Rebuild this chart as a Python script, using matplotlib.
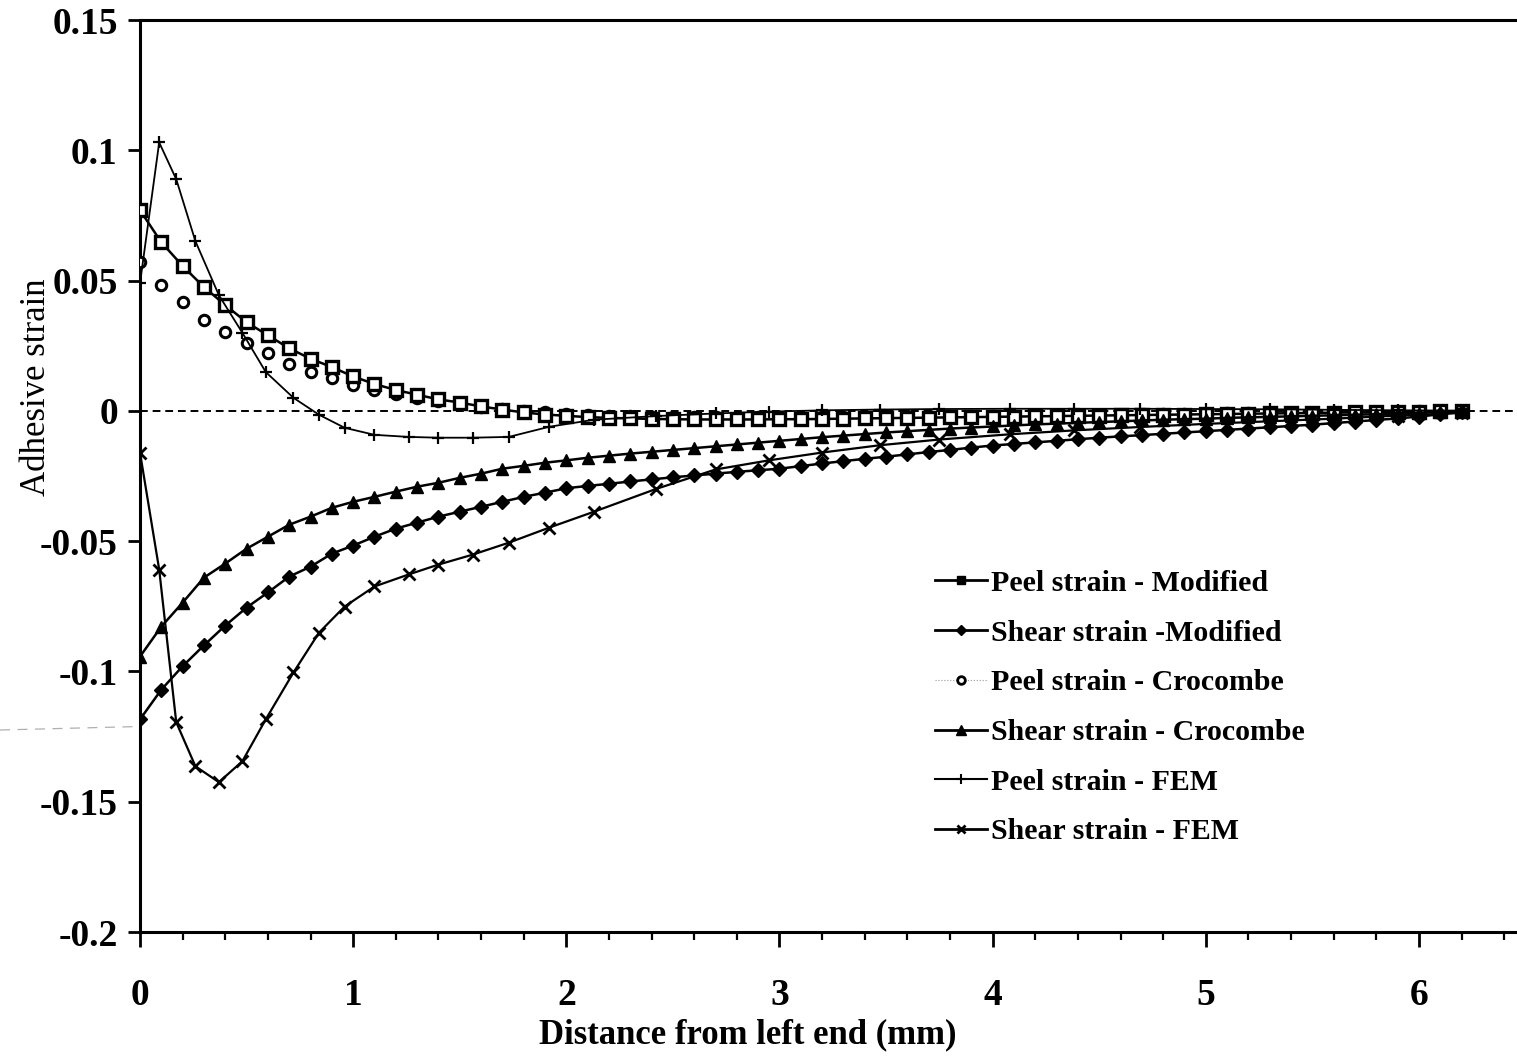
import matplotlib
matplotlib.use("Agg")
import matplotlib.pyplot as plt
from matplotlib.lines import Line2D
from matplotlib.ticker import MultipleLocator

# ---------------- data ----------------
x_grid = [round(0.1 * i, 1) for i in range(63)]  # 0.0 ... 6.2 mm

peel_modified = [
    0.0770, 0.0647, 0.0556, 0.0475, 0.0406, 0.0340, 0.0290, 0.0240, 0.0200, 0.0168,
    0.0132, 0.0103, 0.0080, 0.0062, 0.0044, 0.0032, 0.0017, 0.0005, -0.0006, -0.0014,
    -0.0019, -0.0024, -0.0027, -0.0029, -0.0031, -0.0032, -0.0033, -0.0033, -0.0033, -0.0033,
    -0.0032, -0.0032, -0.0031, -0.0030, -0.0029, -0.0028, -0.0027, -0.0026, -0.0025, -0.0024,
    -0.0023, -0.0022, -0.0021, -0.0020, -0.0019, -0.0018, -0.0017, -0.0016, -0.0015, -0.0014,
    -0.0013, -0.0012, -0.0011, -0.0010, -0.0009, -0.0008, -0.0007, -0.0006, -0.0005, -0.0004,
    -0.0003, -0.0002, -0.0001]

shear_modified = [
    -0.1184, -0.1070, -0.0980, -0.0900, -0.0824, -0.0755, -0.0697, -0.0636, -0.0598, -0.0548,
    -0.0517, -0.0483, -0.0452, -0.0429, -0.0406, -0.0387, -0.0368, -0.0349, -0.0330, -0.0314,
    -0.0297, -0.0288, -0.0280, -0.0271, -0.0263, -0.0255, -0.0248, -0.0241, -0.0234, -0.0228,
    -0.0222, -0.0212, -0.0202, -0.0193, -0.0184, -0.0176, -0.0167, -0.0158, -0.0150, -0.0141,
    -0.0133, -0.0127, -0.0121, -0.0115, -0.0109, -0.0103, -0.0098, -0.0093, -0.0088, -0.0083,
    -0.0078, -0.0073, -0.0068, -0.0063, -0.0058, -0.0053, -0.0047, -0.0041, -0.0035, -0.0029,
    -0.0022, -0.0013, -0.0004]

peel_crocombe = [
    0.0570, 0.0483, 0.0418, 0.0349, 0.0303, 0.0261, 0.0222, 0.0180, 0.0150, 0.0126,
    0.0100, 0.0081, 0.0065, 0.0050, 0.0037, 0.0026, 0.0016, 0.0007, 0.0000, -0.0006,
    -0.0011, -0.0015, -0.0018, -0.0020, -0.0022, -0.0023, -0.0024, -0.0024, -0.0024, -0.0024,
    -0.0024, -0.0024, -0.0023, -0.0023, -0.0022, -0.0022, -0.0021, -0.0021, -0.0020, -0.0019,
    -0.0019, -0.0018, -0.0017, -0.0017, -0.0016, -0.0015, -0.0014, -0.0014, -0.0013, -0.0012,
    -0.0011, -0.0010, -0.0010, -0.0009, -0.0008, -0.0007, -0.0006, -0.0005, -0.0004, -0.0003,
    -0.0002, -0.0001, 0.0000]

shear_crocombe = [
    -0.0943, -0.0828, -0.0736, -0.0640, -0.0586, -0.0529, -0.0483, -0.0437, -0.0406, -0.0372,
    -0.0349, -0.0330, -0.0310, -0.0291, -0.0276, -0.0257, -0.0241, -0.0222, -0.0211, -0.0199,
    -0.0190, -0.0180, -0.0172, -0.0164, -0.0157, -0.0150, -0.0143, -0.0136, -0.0129, -0.0122,
    -0.0115, -0.0108, -0.0101, -0.0095, -0.0089, -0.0083, -0.0078, -0.0073, -0.0068, -0.0064,
    -0.0060, -0.0056, -0.0052, -0.0049, -0.0046, -0.0043, -0.0040, -0.0037, -0.0034, -0.0032,
    -0.0030, -0.0027, -0.0025, -0.0023, -0.0021, -0.0019, -0.0017, -0.0015, -0.0013, -0.0010,
    -0.0007, -0.0004, -0.0001]

x_fem = [0.00, 0.09, 0.17, 0.26, 0.37, 0.48, 0.59, 0.72, 0.84, 0.96, 1.10, 1.26, 1.40, 1.56,
         1.73, 1.92, 2.13, 2.42, 2.70, 2.95, 3.20, 3.47, 3.75, 4.08, 4.38, 4.69, 5.00, 5.30,
         5.60, 5.90, 6.20]

peel_fem = [0.0490, 0.1030, 0.0889, 0.0651, 0.0444, 0.0300, 0.0149, 0.0050, -0.0015, -0.0065,
            -0.0092, -0.0100, -0.0103, -0.0103, -0.0100, -0.0061, -0.0034, -0.0020, -0.0010,
            -0.0003, 0.0002, 0.0005, 0.0007, 0.0008, 0.0008, 0.0008, 0.0007, 0.0006, 0.0004,
            0.0002, 0.0001]

shear_fem = [-0.0160, -0.0609, -0.1195, -0.1364, -0.1425, -0.1345, -0.1184, -0.1004, -0.0851,
             -0.0751, -0.0674, -0.0628, -0.0590, -0.0552, -0.0506, -0.0448, -0.0387, -0.0300,
             -0.0225, -0.0190, -0.0160, -0.0132, -0.0110, -0.0090, -0.0075, -0.0062, -0.0050,
             -0.0040, -0.0030, -0.0018, -0.0008]

labels = ["Peel strain - Modified", "Shear strain -Modified", "Peel strain - Crocombe",
          "Shear strain - Crocombe", "Peel strain - FEM", "Shear strain - FEM"]

x_ticks = [0, 1, 2, 3, 4, 5, 6]
y_ticks = [0.15, 0.1, 0.05, 0, -0.05, -0.1, -0.15, -0.2]
y_tick_labels = ["0.15", "0.1", "0.05", "0", "-0.05", "-0.1", "-0.15", "-0.2"]

# ---------------- figure ----------------
SERIF = ["Liberation Serif", "DejaVu Serif"]
plt.rcParams["font.family"] = SERIF

W, H = 1517, 1056
fig = plt.figure(figsize=(W / 100, H / 100), dpi=100)
L, R, B, T = 140, 1517, 932, 20
ax = fig.add_axes([L / W, 1 - B / H, (R - L) / W, (B - T) / H])

ax.set_xlim(0, 6.46)
ax.set_ylim(-0.2, 0.15)

# zero reference line
ax.axhline(0, color="black", lw=1.4, ls=(0, (4, 2.5)), zorder=1)

k = "black"
ax.plot(x_grid, peel_modified, color=k, lw=1.8, marker="s", ms=9, mfc="white",
        mec=k, mew=2.4, zorder=4)
ax.plot(x_grid, shear_modified, color=k, lw=1.8, marker="D", ms=7.5, mfc=k, mec=k, zorder=4)
ax.plot(x_grid, peel_crocombe, ls="none", marker="o", ms=7.5, mfc="white", mec=k,
        mew=2.2, zorder=3)
ax.plot(x_grid, shear_crocombe, color=k, lw=1.8, marker="^", ms=9, mfc=k, mec=k, zorder=4)
ax.plot(x_fem, peel_fem, color=k, lw=1.3, marker="+", ms=8, mew=1.6, zorder=5)
ax.plot(x_fem, shear_fem, color=k, lw=1.6, marker="x", ms=8, mew=2.0, zorder=5)

# axes styling
for s in ["left", "bottom", "top"]:
    ax.spines[s].set_linewidth(2.2)
ax.spines["right"].set_visible(False)

ax.xaxis.set_major_locator(MultipleLocator(1))
ax.xaxis.set_minor_locator(MultipleLocator(0.2))
ax.set_xticks(x_ticks)
ax.set_yticks(y_ticks)
ax.set_yticklabels(y_tick_labels)
ax.tick_params(axis="x", which="major", direction="out", length=11, width=2, pad=22,
               labelsize=27)
ax.tick_params(axis="x", which="minor", direction="out", length=6, width=1.6)
ax.tick_params(axis="y", which="major", direction="out", length=9, width=2, pad=7,
               labelsize=27)
for lab in ax.get_xticklabels() + ax.get_yticklabels():
    lab.set_fontweight("bold")

ax.set_xlabel("Distance from left end (mm)", fontsize=25, fontweight="bold")
ax.xaxis.label.set_va("center")
ax.xaxis.set_label_coords(0.4415, -0.113)
ax.set_ylabel("Adhesive strain", fontsize=25)
ax.yaxis.set_label_coords(-0.063, 0.597)

# legend
handles = [
    Line2D([], [], color=k, lw=2, marker="s", ms=6, mfc=k, mec=k),
    Line2D([], [], color=k, lw=2, marker="D", ms=5.5, mfc=k, mec=k),
    Line2D([], [], color="#999999", lw=0.8, ls=":", marker="o", ms=5.5, mfc="white",
           mec=k, mew=2),
    Line2D([], [], color=k, lw=2, marker="^", ms=7, mfc=k, mec=k),
    Line2D([], [], color=k, lw=1.5, marker="+", ms=7, mew=1.5),
    Line2D([], [], color=k, lw=2, marker="x", ms=6, mew=2),
]
leg = ax.legend(handles, labels, loc="upper left", bbox_to_anchor=(0.577, 0.397),
                frameon=False, fontsize=21.5, handlelength=1.75, handletextpad=0.15,
                labelspacing=0.76, borderaxespad=0, borderpad=0)
for t in leg.get_texts():
    t.set_fontweight("bold")

# faint scanning fold line across the page
fig.add_artist(Line2D([0, 1], [1 - 730 / H, 1 - 692 / H], transform=fig.transFigure,
                      color="#b0b0b0", lw=0.9, ls=(0, (8, 6)), zorder=0))

fig.savefig("out.png", dpi=100)
